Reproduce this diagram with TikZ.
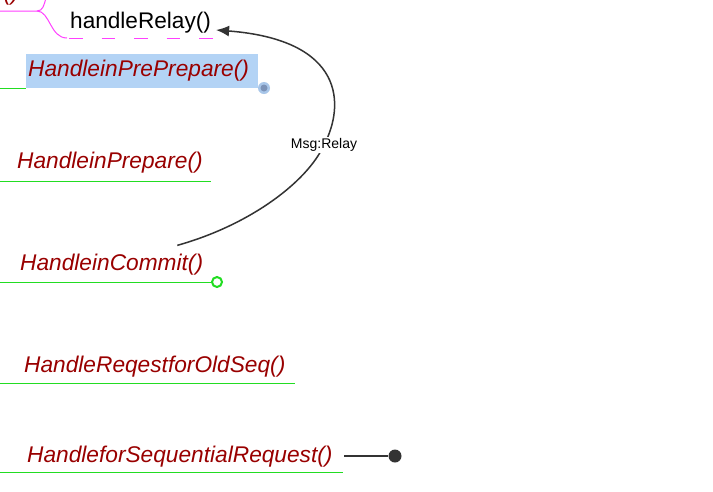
\documentclass[tikz,border=0pt]{standalone}
\usepackage{fontspec}
\setmainfont{Liberation Sans}
\usetikzlibrary{arrows.meta}
\definecolor{fnred}{HTML}{990000}
\definecolor{mmgreen}{HTML}{22DD22}
\definecolor{mmpink}{HTML}{FF40FF}
\definecolor{hilite}{HTML}{B3D3F5}
\definecolor{knob}{HTML}{7C93B8}
\definecolor{linkgray}{HTML}{333333}

\begin{document}
\begin{tikzpicture}[x=1pt,y=-1pt]
\tikzstyle{func}=[font=\fontsize{22.7}{26}\selectfont\itshape,text=fnred,inner sep=0pt,anchor=base west]
\tikzstyle{branch}=[draw=mmgreen,line width=1pt]
\tikzstyle{twig}=[draw=mmpink,line width=1pt]
\clip (0,0) rectangle (713,491);
\fill[white] (0,0) rectangle (713,491);
% top part of the tree
\node[func,anchor=base east] (parent) at (19,0) {()};
\node[font=\fontsize{22.6}{26}\selectfont,inner sep=0pt,anchor=base west] (relay) at (70,28) {handleRelay()};
\draw[twig] (0,11) -- (37,11) .. controls (43,11) and (44,5) .. (46,-2);
\draw[twig] (37,11) .. controls (50,11) and (50,38) .. (67,38);
\draw[twig,dash pattern=on 13.5pt off 19pt] (69,38) -- (216,38);
% selected node
\fill[hilite] (26,54) rectangle (258,88);
\draw[branch] (0,88) -- (26,88);
\node[func] (prepre) at (28,76) {HandleinPrePrepare()};
\fill[hilite!80!knob] (264,88) circle (6);
\fill[knob] (264,88) circle (3.5);
% the other handlers
\node[func] (prep) at (17,168) {HandleinPrepare()};
\draw[branch] (0,181) -- (211,181);
\node[func] (commit) at (20,270) {HandleinCommit()};
\node[circle,draw=mmgreen,line width=2pt,fill=white,inner sep=0pt,minimum size=10pt] (commitend) at (217,282) {};
\draw[branch] (0,282) -- (commitend);
\node[func] (oldseq) at (24,372) {HandleReqestforOldSeq()};
\draw[branch] (0,383) -- (295,383);
\node[func] (seqreq) at (27,462) {HandleforSequentialRequest()};
\draw[branch] (0,472) -- (343,472);
\coordinate (seqstub) at (344,456);
\node[circle,fill=linkgray,inner sep=0pt,minimum size=13pt] (seqdot) at (395,456) {};
\draw[linkgray,line width=1.5pt] (seqstub) -- (seqdot);
% relationship
\draw[linkgray,line width=1.5pt,-{Latex[length=13pt,width=11pt]}]
  ([shift={(-26,-8)}]commit.north east) .. controls (250,225) and (307,182) .. (324,145)
  node[fill=white,inner sep=1.5pt,font=\fontsize{14}{16}\selectfont,text=black] (msg) {Msg:Relay}
  .. controls (345,105) and (345,40) .. ([shift={(5,2)}]relay.base east);
\end{tikzpicture}
\end{document}
